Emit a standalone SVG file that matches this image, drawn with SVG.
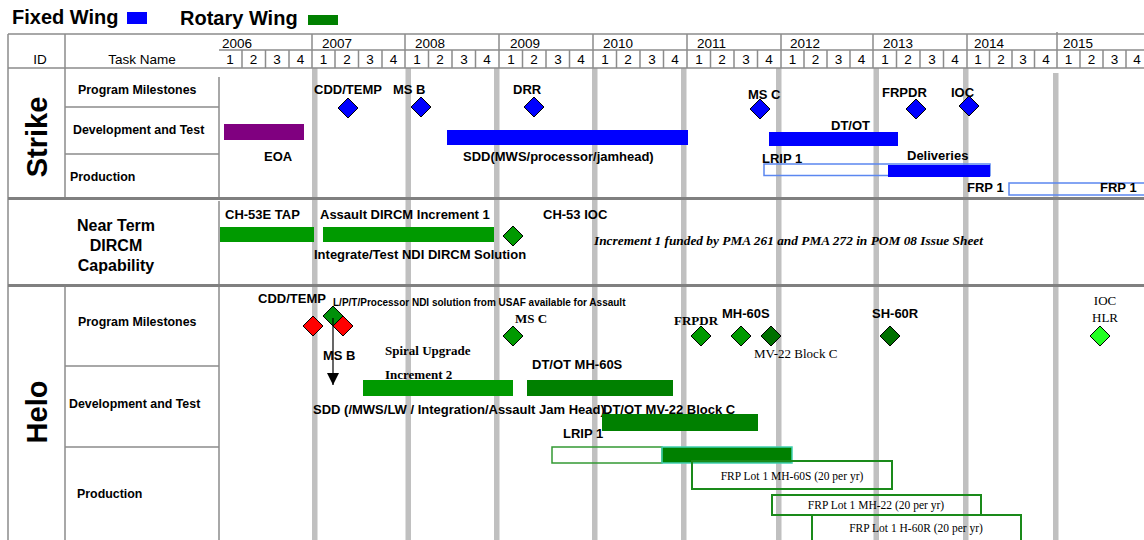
<svg xmlns="http://www.w3.org/2000/svg" width="1144" height="540" viewBox="0 0 1144 540">
<style>
.sans{font-family:"Liberation Sans",Arial,sans-serif;fill:#000}
.hd{font-family:"Liberation Sans",Arial,sans-serif;font-size:13.5px;fill:#000}
.lb{font-family:"Liberation Sans",Arial,sans-serif;font-size:13px;font-weight:bold;fill:#000}
.rl{font-family:"Liberation Sans",Arial,sans-serif;font-size:12.4px;font-weight:bold;fill:#000}
.sec{font-family:"Liberation Sans",Arial,sans-serif;font-size:29px;font-weight:bold;fill:#000}
.sfb{font-family:"Liberation Serif","Times New Roman",serif;font-size:13px;font-weight:bold;fill:#000}
.sf{font-family:"Liberation Serif","Times New Roman",serif;font-size:13px;fill:#000}
.frp{font-family:"Liberation Serif","Times New Roman",serif;font-size:11.5px;fill:#000}
.grid{stroke:#8c8c8c;stroke-width:1.5;fill:none}
.gbar{fill:#c0c0c0}
.sep{stroke:#808080;stroke-width:3}
.dia{stroke:#000;stroke-width:1}
.bbox{fill:none;stroke:#5b87f0;stroke-width:1.5}
.gbox{fill:none;stroke:#1a8a1a;stroke-width:2}
</style>
<defs>
<path id="dm" d="M0,-10 L10,0 L0,10 L-10,0 Z"/>
<marker id="ah" markerWidth="12" markerHeight="12" refX="12" refY="6" orient="auto" markerUnits="userSpaceOnUse" viewBox="0 0 12 12">
<path d="M0,0 L12,6 L0,12 Z" fill="#000"/>
</marker>
</defs>
<rect width="1144" height="540" fill="#fff"/>

<!-- legend -->
<g id="legend">
<text x="12" y="24" class="sans" font-size="20" font-weight="bold">Fixed Wing</text>
<rect x="127" y="12" width="20" height="12" fill="#0000ff"/>
<text x="180" y="25" class="sans" font-size="20" font-weight="bold">Rotary Wing</text>
<rect x="308" y="15" width="30" height="10" fill="#008000"/>
</g>

<!-- gray year bars -->
<g id="yearbars">
<rect class="gbar" x="312" y="68" width="5.5" height="472"/>
<rect class="gbar" x="405.5" y="68" width="5.5" height="472"/>
<rect class="gbar" x="494" y="68" width="5.5" height="472"/>
<rect class="gbar" x="592" y="68" width="5.5" height="472"/>
<rect class="gbar" x="681" y="68" width="5.5" height="472"/>
<rect class="gbar" x="776" y="68" width="5.5" height="472"/>
<rect class="gbar" x="873.5" y="68" width="5.5" height="472"/>
<rect class="gbar" x="963" y="68" width="5.5" height="472"/>
<rect class="gbar" x="1053" y="73" width="5.5" height="467"/>
</g>

<!-- header grid -->
<g id="header">
<path class="grid" d="M8,34 H1144 M219,50 H1144 M8,68 H1144 M8,34 V540 M65,34 V198 M65,286 V540 M219,77 V198 M219,201 V540"/>
<path class="grid" d="M312,34V68 M405,34V68 M499,34V68 M593,34V68 M687,34V68 M781,34V68 M873,34V68 M967,34V68 M1057,32V68"/>
<path class="grid" d="M242,50V68 M265.5,50V68 M289,50V68 M335,50V68 M358.5,50V68 M382,50V68 M428.5,50V68 M452,50V68 M475.5,50V68 M522.5,50V68 M546,50V68 M569.5,50V68 M616.5,50V68 M640,50V68 M663.5,50V68 M710.5,50V68 M734,50V68 M757.5,50V68 M804,50V68 M827,50V68 M850,50V68 M896.5,50V68 M920,50V68 M943.5,50V68 M989.5,50V68 M1012,50V68 M1034.5,50V68 M1080,50V68 M1103,50V68 M1126,50V68"/>
<text class="hd" x="40" y="64" text-anchor="middle">ID</text>
<text class="hd" x="142" y="64" text-anchor="middle">Task Name</text>
<g class="hd">
<text x="222" y="48">2006</text><text x="322" y="48">2007</text><text x="415" y="48">2008</text><text x="510" y="48">2009</text><text x="603" y="48">2010</text><text x="697" y="48">2011</text><text x="790" y="48">2012</text><text x="883" y="48">2013</text><text x="974" y="48">2014</text><text x="1063" y="48">2015</text>
</g>
<g class="hd" text-anchor="middle">
<text x="230" y="64">1</text><text x="253.5" y="64">2</text><text x="277" y="64">3</text><text x="300.5" y="64">4</text>
<text x="323.5" y="64">1</text><text x="347" y="64">2</text><text x="370" y="64">3</text><text x="393.5" y="64">4</text>
<text x="417" y="64">1</text><text x="440" y="64">2</text><text x="464" y="64">3</text><text x="487" y="64">4</text>
<text x="511" y="64">1</text><text x="534" y="64">2</text><text x="558" y="64">3</text><text x="581" y="64">4</text>
<text x="605" y="64">1</text><text x="628" y="64">2</text><text x="652" y="64">3</text><text x="675" y="64">4</text>
<text x="699" y="64">1</text><text x="722" y="64">2</text><text x="746" y="64">3</text><text x="769" y="64">4</text>
<text x="792.5" y="64">1</text><text x="815.5" y="64">2</text><text x="838.5" y="64">3</text><text x="861.5" y="64">4</text>
<text x="885" y="64">1</text><text x="908" y="64">2</text><text x="932" y="64">3</text><text x="955" y="64">4</text>
<text x="978" y="64">1</text><text x="1001" y="64">2</text><text x="1023" y="64">3</text><text x="1046" y="64">4</text>
<text x="1068.5" y="64">1</text><text x="1091.5" y="64">2</text><text x="1114.5" y="64">3</text><text x="1137" y="64">4</text>
</g>
</g>

<!-- section row structure -->
<g id="rows">
<path class="grid" d="M65,107 H219 M65,154 H219 M65,366 H219 M65,447 H219"/>
<line class="sep" x1="8" y1="198.5" x2="1144" y2="198.5"/>
<line class="sep" x1="8" y1="285.5" x2="1144" y2="285.5"/>
<text class="sec" transform="translate(47,137) rotate(-90)" text-anchor="middle">Strike</text>
<text class="sec" transform="translate(47,412) rotate(-90)" text-anchor="middle">Helo</text>
<text class="rl" x="78" y="94">Program Milestones</text>
<text class="rl" x="73" y="134">Development and Test</text>
<text class="rl" x="70" y="181">Production</text>
<text class="rl" x="78" y="326">Program Milestones</text>
<text class="rl" x="69" y="408">Development and Test</text>
<text class="rl" x="77" y="498">Production</text>
<g class="sans" font-size="16" font-weight="bold" text-anchor="middle">
<text x="116" y="231">Near Term</text>
<text x="116" y="251">DIRCM</text>
<text x="116" y="271">Capability</text>
</g>
</g>

<!-- Strike nodes -->
<g id="strike-cdd-temp"><text class="lb" x="314" y="94">CDD/TEMP</text><use href="#dm" class="dia" x="348" y="108" fill="#0000ff"/></g>
<g id="strike-ms-b"><text class="lb" x="393" y="94">MS B</text><use href="#dm" class="dia" x="421" y="107" fill="#0000ff"/></g>
<g id="strike-drr"><text class="lb" x="513" y="94">DRR</text><use href="#dm" class="dia" x="534" y="107" fill="#0000ff"/></g>
<g id="strike-ms-c"><text class="lb" x="748" y="99">MS C</text><use href="#dm" class="dia" x="760" y="109" fill="#0000ff"/></g>
<g id="strike-frpdr"><text class="lb" x="882" y="97">FRPDR</text><use href="#dm" class="dia" x="916" y="109" fill="#0000ff"/></g>
<g id="strike-ioc"><text class="lb" x="951" y="97">IOC</text><use href="#dm" class="dia" x="969" y="106" fill="#0000ff"/></g>
<g id="strike-eoa"><rect x="224" y="124" width="80" height="16" fill="#800080"/><text class="lb" x="264" y="161">EOA</text></g>
<g id="strike-sdd"><rect x="447" y="130" width="241" height="15" fill="#0000ff"/><text class="lb" x="463" y="161">SDD(MWS/processor/jamhead)</text></g>
<g id="strike-dtot"><rect x="769" y="132" width="129" height="14" fill="#0000ff"/><text class="lb" x="831" y="130">DT/OT</text></g>
<g id="strike-lrip"><rect class="bbox" x="764" y="164" width="226" height="11.5"/><text class="lb" x="762" y="163">LRIP 1</text></g>
<g id="strike-deliveries"><rect x="888" y="165" width="102" height="12" fill="#0000ff"/><text class="lb" x="907" y="160">Deliveries</text></g>
<g id="strike-frp1"><text class="lb" x="967" y="192">FRP 1</text><rect class="bbox" x="1009" y="183" width="145" height="12"/><text class="lb" x="1100" y="192">FRP 1</text></g>

<!-- Near term nodes -->
<g id="nt-ch53e-tap"><text class="lb" x="225" y="219">CH-53E TAP</text><rect x="220" y="227" width="94" height="15" fill="#009a00"/></g>
<g id="nt-assault-dircm"><text class="lb" x="320" y="219">Assault DIRCM Increment 1</text><rect x="323" y="227" width="171" height="15" fill="#009a00"/><text class="lb" x="314" y="259">Integrate/Test NDI DIRCM Solution</text></g>
<g id="nt-ch53-ioc"><text class="lb" x="543" y="219">CH-53 IOC</text><use href="#dm" class="dia" x="513" y="236" fill="#009a00"/></g>
<g id="nt-note"><text x="594" y="245" font-family="Liberation Serif,Times New Roman,serif" font-size="12" font-weight="bold" font-style="italic" textLength="389" lengthAdjust="spacingAndGlyphs">Increment 1 funded by PMA 261 and PMA 272 in POM 08 Issue Sheet</text></g>

<!-- Helo nodes -->
<g id="helo-cdd-temp"><text class="lb" x="258" y="303">CDD/TEMP</text><use href="#dm" class="dia" x="313" y="326" fill="#ff0000"/></g>
<g id="helo-lpt"><use href="#dm" class="dia" x="333" y="316" fill="#00900a"/><text class="sans" x="333" y="306" font-size="10" font-weight="bold">L/P/T/Processor NDI solution from USAF available for Assault</text></g>
<g id="helo-ms-b"><use href="#dm" class="dia" x="343" y="326" fill="#ff0000"/><text class="lb" x="323" y="360">MS B</text></g>
<g id="helo-ms-c"><text class="sfb" x="515" y="323" font-size="11.5">MS C</text><use href="#dm" class="dia" x="513" y="336" fill="#009a00"/></g>
<g id="helo-frpdr"><text class="sfb" x="674" y="325">FRPDR</text><use href="#dm" class="dia" x="701" y="336" fill="#009a00"/></g>
<g id="helo-mh60s"><text class="lb" x="722" y="318">MH-60S</text><use href="#dm" class="dia" x="741" y="336" fill="#009a00"/></g>
<g id="helo-mv22"><use href="#dm" class="dia" x="771" y="336" fill="#007000"/><text class="sf" x="754" y="358">MV-22 Block C</text></g>
<g id="helo-sh60r"><text class="lb" x="872" y="318">SH-60R</text><use href="#dm" class="dia" x="890" y="336" fill="#007000"/></g>
<g id="helo-ioc-hlr"><text class="sf" x="1105" y="305" text-anchor="middle">IOC</text><text class="sf" x="1105" y="322" text-anchor="middle">HLR</text><use href="#dm" class="dia" x="1100" y="336" fill="#22ff22"/></g>
<g id="helo-spiral"><text class="sfb" x="385" y="355">Spiral Upgrade</text><text class="sfb" x="385" y="379">Increment 2</text><rect x="363" y="380" width="150" height="16" fill="#009a00"/><text class="lb" x="313" y="414">SDD (/MWS/LW / Integration/Assault Jam Head)</text></g>
<g id="helo-dtot-mh60s"><text class="lb" x="532" y="369">DT/OT MH-60S</text><rect x="527" y="380" width="146" height="16" fill="#008000"/></g>
<g id="helo-dtot-mv22"><text class="lb" x="603" y="414">DT/OT MV-22 Block C</text><rect x="602" y="414" width="156" height="17" fill="#008000"/></g>
<g id="helo-lrip"><text class="lb" x="563" y="438">LRIP 1</text><rect x="552" y="447" width="110" height="16" fill="none" stroke="#339933" stroke-width="1.5"/><rect x="662" y="447" width="130" height="16" fill="#008000" stroke="#40d0b0" stroke-width="1.5"/></g>
<g id="helo-frp-mh60s"><rect class="gbox" x="692" y="461" width="200" height="28"/><text class="frp" x="792" y="480" text-anchor="middle">FRP Lot 1 MH-60S (20 per yr)</text></g>
<g id="helo-frp-mh22"><rect class="gbox" x="772" y="495" width="209" height="20"/><text class="frp" x="876" y="509" text-anchor="middle">FRP Lot 1 MH-22 (20 per yr)</text></g>
<g id="helo-frp-h60r"><rect class="gbox" x="812" y="515" width="209" height="30"/><text class="frp" x="916" y="532" text-anchor="middle">FRP Lot 1 H-60R (20 per yr)</text></g>

<!-- connectors -->
<g id="connectors">
<line x1="333" y1="318" x2="333" y2="385" stroke="#000" stroke-width="1.2" marker-end="url(#ah)"/>
</g>
</svg>
